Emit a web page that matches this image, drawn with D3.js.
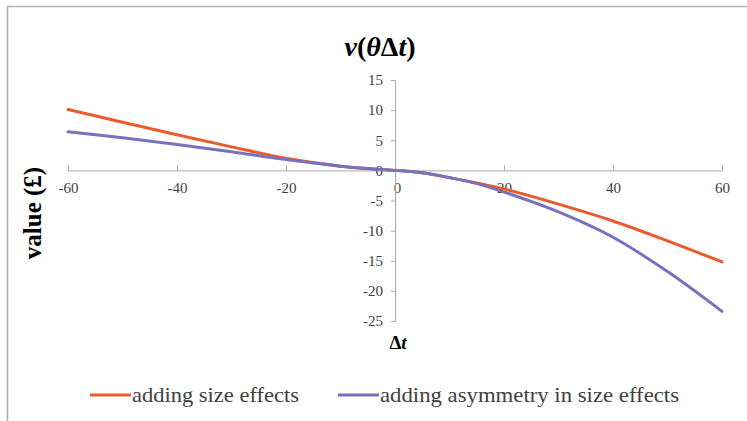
<!DOCTYPE html>
<html>
<head>
<meta charset="utf-8">
<script src="https://cdn.jsdelivr.net/npm/d3@7"></script>
<style>
  body { margin: 0; background: #fff; }
  svg text { font-family: "Liberation Serif", "Times New Roman", serif; }
</style>
</head>
<body>
<div id="chart-container"></div>
<script>
// Values
const deltaT = [-60, -50, -40, -30, -20, -10, -5, 0, 5, 10, 15, 20, 30, 40, 50, 60];
const sizeEffects = [10.1, 8.0, 5.9, 3.9, 2.0, 0.7, 0.3, 0, -0.4, -1.2, -2.1, -3.1, -5.6, -8.4, -11.7, -15.2];
const asymmetry = [6.4, 5.4, 4.3, 3.1, 1.8, 0.7, 0.3, 0, -0.4, -1.2, -2.2, -3.6, -6.9, -11.1, -16.8, -23.4];
const xTicks = [-60, -40, -20, 0, 20, 40, 60];
const yTicks = [15, 10, 5, 0, -5, -10, -15, -20, -25];
const seriesNames = ["adding size effects", "adding asymmetry in size effects"];
const seriesColors = ["#ea5a2c", "#7672bd"];

window.onload = () => {
  const width = 747, height = 421;
  const svg = d3.select("#chart-container")
    .append("svg")
    .attr("width", width)
    .attr("height", height);

  // chart frame (only top and left edges visible)
  svg.append("path")
    .attr("d", "M7.5,421V6.5H747")
    .attr("fill", "none")
    .attr("stroke", "#b0b0b0")
    .attr("stroke-width", 1.5);

  const x = d3.scaleLinear().domain([-60, 60]).range([68, 722]);
  const y = d3.scaleLinear().domain([15, -25]).range([80, 321]);

  // plain hyphen for negatives, like the original
  const fmt = (d) => String(d);

  // x axis through y = 0
  const xAxis = svg.append("g")
    .attr("transform", `translate(0,${y(0)})`)
    .call(d3.axisBottom(x).tickValues(xTicks).tickSize(-5).tickPadding(12).tickFormat(fmt));
  xAxis.select(".domain").attr("stroke", "#a8a8a8");
  xAxis.selectAll(".tick line").attr("stroke", "#a8a8a8");
  xAxis.selectAll(".tick text")
    .attr("fill", "#404040")
    .style("font-size", "15px")
    .attr("dx", (d) => (d === 0 ? 2 : 0));

  // y axis through x = 0
  const yAxis = svg.append("g")
    .attr("transform", `translate(${x(0)},0)`)
    .call(d3.axisLeft(y).tickValues(yTicks).tickSize(4).tickPadding(8).tickFormat(fmt));
  yAxis.select(".domain").attr("stroke", "#a8a8a8");
  yAxis.selectAll(".tick line").attr("stroke", "#a8a8a8");
  yAxis.selectAll(".tick text")
    .attr("fill", "#404040")
    .style("font-size", "15px");

  // series lines
  const seriesValues = [sizeEffects, asymmetry];
  const line = d3.line()
    .x((d, i) => x(deltaT[i]))
    .y((d) => y(d))
    .curve(d3.curveCatmullRom.alpha(0.5));

  seriesValues.forEach((vals, k) => {
    svg.append("path")
      .datum(vals)
      .attr("fill", "none")
      .attr("stroke", seriesColors[k])
      .attr("stroke-width", 3)
      .attr("stroke-linecap", "round")
      .attr("d", line);
  });

  // title: v(θΔt)
  const title = svg.append("text")
    .attr("x", 380)
    .attr("y", 56)
    .attr("text-anchor", "middle")
    .style("font-size", "28px")
    .style("font-weight", "bold")
    .attr("fill", "#000");
  title.append("tspan").style("font-style", "italic").text("v");
  title.append("tspan").text("(");
  title.append("tspan").style("font-style", "italic").text("θ");
  title.append("tspan").text("Δ");
  title.append("tspan").style("font-style", "italic").text("t");
  title.append("tspan").text(")");

  // x axis title
  const xt = svg.append("text")
    .attr("x", 398)
    .attr("y", 349)
    .attr("text-anchor", "middle")
    .style("font-size", "19px")
    .style("font-weight", "bold")
    .attr("fill", "#000");
  xt.append("tspan").text("Δ");
  xt.append("tspan").style("font-style", "italic").text("t");

  // y axis title
  svg.append("text")
    .attr("transform", "translate(41,213) rotate(-90)")
    .attr("text-anchor", "middle")
    .style("font-size", "25px")
    .style("font-weight", "bold")
    .attr("fill", "#000")
    .text("value (£)");

  // legend
  const legendX = [90, 338];
  const legendLen = [167, 299];
  seriesNames.forEach((name, k) => {
    const g = svg.append("g").attr("transform", `translate(${legendX[k]},395)`);
    g.append("line")
      .attr("x1", 0).attr("x2", 41)
      .attr("y1", 0).attr("y2", 0)
      .attr("stroke", seriesColors[k])
      .attr("stroke-width", 3);
    g.append("text")
      .attr("x", 42)
      .attr("y", 7)
      .style("font-size", "22px")
      .attr("textLength", legendLen[k])
      .attr("lengthAdjust", "spacingAndGlyphs")
      .attr("fill", "#404040")
      .text(name);
  });
};
</script>
</body>
</html>
